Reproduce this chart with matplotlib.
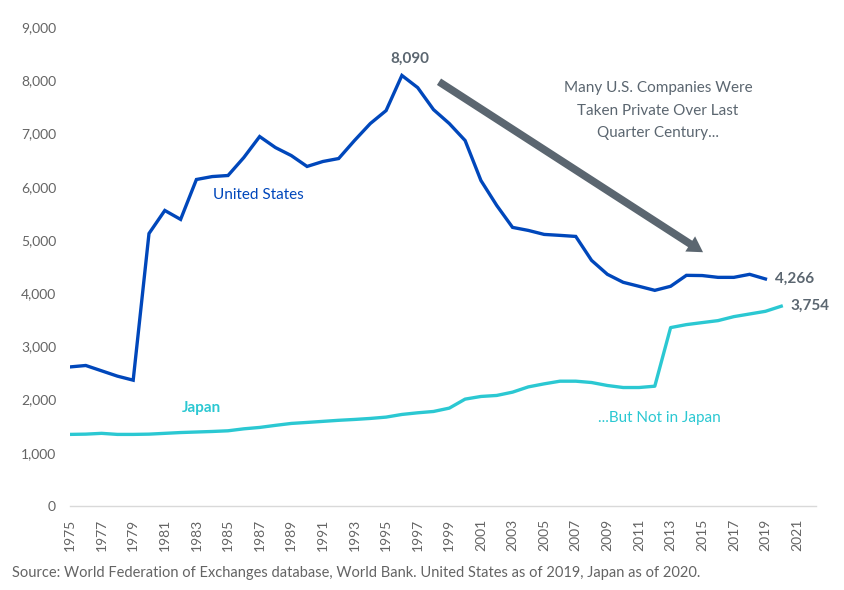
import matplotlib
matplotlib.use("Agg")
import matplotlib.pyplot as plt
from matplotlib.ticker import FuncFormatter

years_us = list(range(1975, 2020))
us = [2613, 2640, 2540, 2440, 2364, 5120, 5553, 5385, 6135, 6190,
      6210, 6548, 6942, 6735, 6585, 6380, 6473, 6529, 6867, 7186,
      7430, 8090, 7861, 7448, 7186, 6867, 6116, 5647, 5235, 5178,
      5103, 5085, 5065, 4615, 4353, 4203, 4128, 4052, 4128, 4334,
      4330, 4296, 4296, 4353, 4266]

years_jp = list(range(1975, 2021))
jp = [1345, 1350, 1365, 1345, 1345, 1350, 1365, 1380, 1390, 1400,
      1413, 1450, 1476, 1515, 1551, 1570, 1590, 1610, 1626, 1645,
      1670, 1720, 1751, 1776, 1839, 2008, 2058, 2077, 2139, 2238,
      2295, 2345, 2345, 2320, 2264, 2226, 2226, 2251, 3352, 3408,
      3446, 3483, 3558, 3608, 3658, 3754]

x_ticks = list(range(1975, 2022, 2))
y_ticks = list(range(0, 9001, 1000))

US_COL = "#0047BB"
JP_COL = "#2BC8D2"
GREY = "#5B6670"
TXT = "#646464"

plt.rcParams['font.family'] = ['Lato', 'DejaVu Sans']

fig = plt.figure(figsize=(8.45, 5.9), dpi=100)
ax = fig.add_axes([0.0828, 0.1424, 0.8829, 0.8118])

ax.plot(years_us, us, color=US_COL, lw=2.4, solid_joinstyle='miter')
ax.plot(years_jp, jp, color=JP_COL, lw=2.4)

ax.set_xlim(1975, 2022.2)
ax.set_ylim(0, 9000)
ax.set_yticks(y_ticks)
ax.yaxis.set_major_formatter(FuncFormatter(lambda v, p: f"{int(v):,}"))
ax.set_xticks(x_ticks)
ax.set_xticklabels([str(t) for t in x_ticks], rotation=90)
ax.tick_params(axis='both', length=0, labelcolor=TXT, labelsize=10)
ax.tick_params(axis='y', pad=10)
ax.tick_params(axis='x', pad=9)
for s in ['top', 'right', 'left']:
    ax.spines[s].set_visible(False)
ax.spines['bottom'].set_color('#D9D9D9')
ax.spines['bottom'].set_linewidth(1)

# annotations
ax.text(1996.5, 8400, "8,090", color=GREY, fontsize=11, fontweight='bold', ha='center', va='center')
ax.text(2019.6, 4266, "4,266", color=GREY, fontsize=11, fontweight='bold', ha='left', va='center')
ax.text(2020.6, 3754, "3,754", color=GREY, fontsize=11, fontweight='bold', ha='left', va='center')
ax.text(1986.9, 5850, "United States", color=US_COL, fontsize=11, ha='center', va='center')
ax.text(1983.3, 1850, "Japan", color=JP_COL, fontsize=11, fontweight='bold', ha='center', va='center')
ax.text(2012.2, 7430, "Many U.S. Companies Were\nTaken Private Over Last\nQuarter Century...",
        color=GREY, fontsize=11, ha='center', va='center', linespacing=1.75)
ax.text(2012.3, 1650, "...But Not in Japan", color=JP_COL, fontsize=11, ha='center', va='center')

ax.annotate("", xy=(2015.2, 4740), xytext=(1998.2, 8000),
            arrowprops=dict(arrowstyle="simple,head_length=1.1,head_width=1.3,tail_width=0.55",
                            color=GREY, lw=0))

fig.text(0.014, 0.029, "Source: World Federation of Exchanges database, World Bank. United States as of 2019, Japan as of 2020.",
         color=TXT, fontsize=10.5, ha='left', va='center')

fig.savefig("out.png", dpi=100)
